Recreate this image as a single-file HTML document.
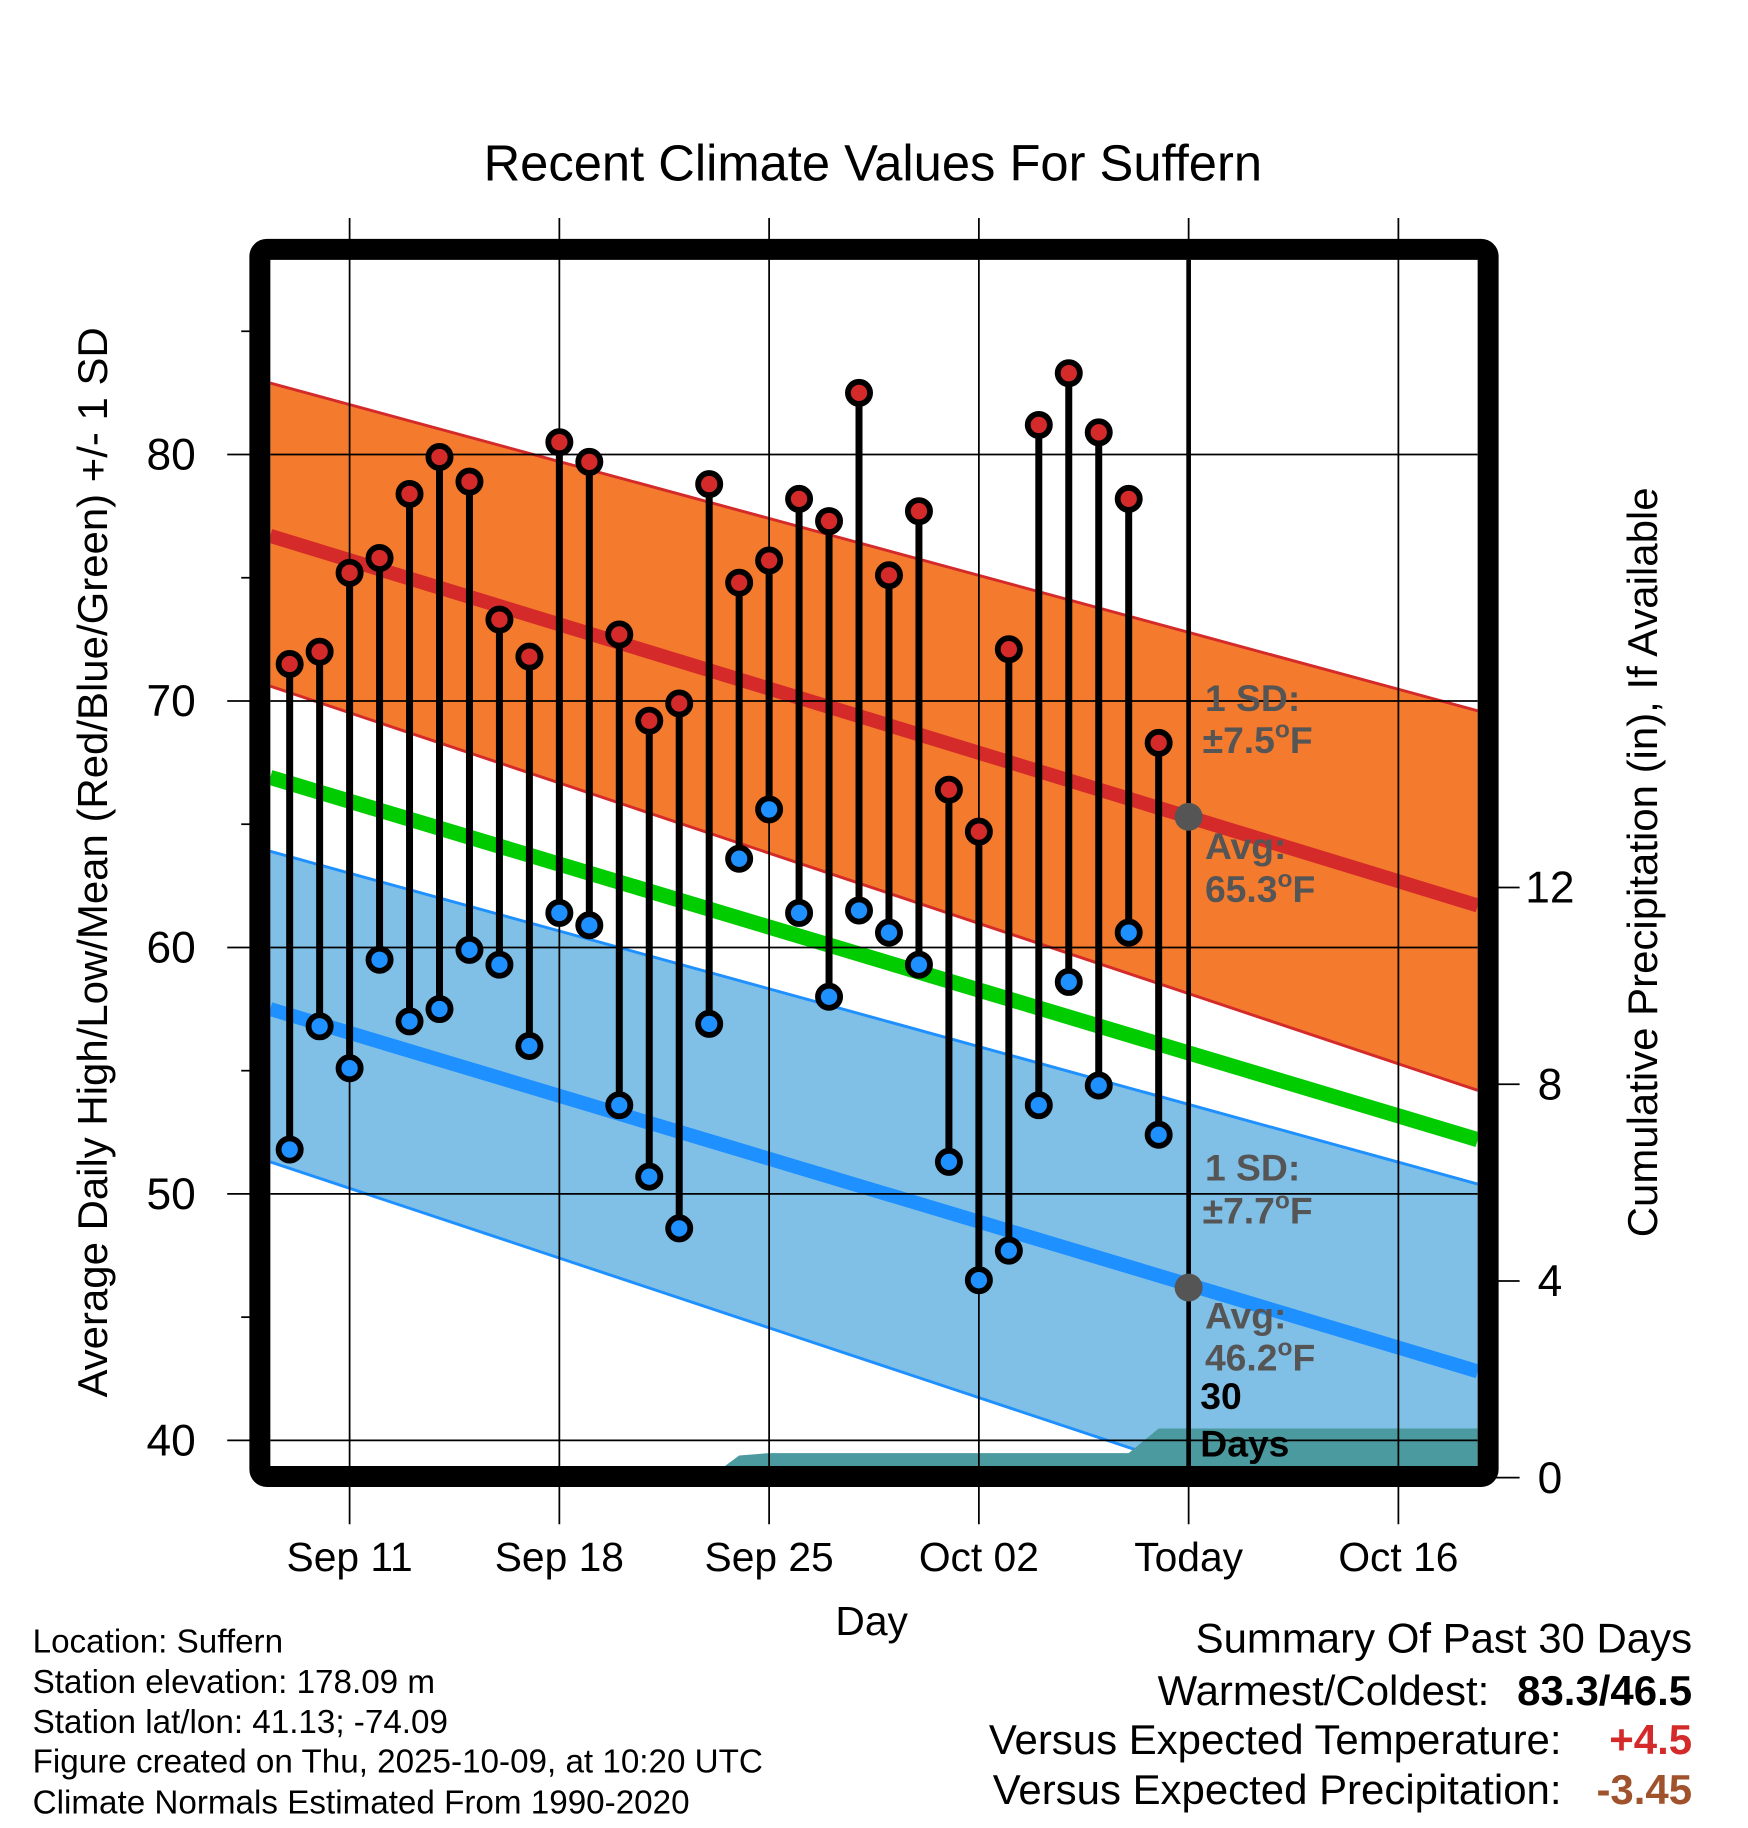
<!DOCTYPE html>
<html><head><meta charset="utf-8"><style>
html,body{margin:0;padding:0;background:#fff}
svg{display:block}
text{font-family:"Liberation Sans",Arial,sans-serif}
</style></head><body>
<svg id="chart" width="1748" height="1828" viewBox="0 0 1500 1568.6" xmlns="http://www.w3.org/2000/svg">
<defs><clipPath id="plotclip"><rect x="232" y="223" width="1036" height="1035"/></clipPath></defs>
<text x="749" y="155" font-size="43.5" text-anchor="middle">Recent Climate Values For Suffern</text>
<g id="plot" clip-path="url(#plotclip)"></g>
<g id="grid"></g>
<g id="marks"></g>
<g id="axes"></g>
<text transform="translate(92,740) rotate(-90)" font-size="36" text-anchor="middle">Average Daily High/Low/Mean (Red/Blue/Green) +/- 1 SD</text>
<text transform="translate(1422,740) rotate(-90)" font-size="36" text-anchor="middle">Cumulative Precipitation (in), If Available</text>
<text x="748" y="1403" font-size="35" text-anchor="middle">Day</text>
<g font-size="28.5">
<text x="28" y="1418">Location: Suffern</text>
<text x="28" y="1453">Station elevation: 178.09 m</text>
<text x="28" y="1487">Station lat/lon: 41.13; -74.09</text>
<text x="28" y="1521">Figure created on Thu, 2025-10-09, at 10:20 UTC</text>
<text x="28" y="1556">Climate Normals Estimated From 1990-2020</text>
</g>
<g font-size="36">
<text x="1452" y="1418" text-anchor="end">Summary Of Past 30 Days</text>
<text x="1278" y="1463" text-anchor="end">Warmest/Coldest:</text>
<text x="1452" y="1463" text-anchor="end" font-weight="bold">83.3/46.5</text>
<text x="1340" y="1505" text-anchor="end">Versus Expected Temperature:</text>
<text x="1452" y="1505" text-anchor="end" font-weight="bold" fill="#d42a2a">+4.5</text>
<text x="1340" y="1548" text-anchor="end">Versus Expected Precipitation:</text>
<text x="1452" y="1548" text-anchor="end" font-weight="bold" fill="#a0522d">-3.45</text>
</g>
</svg>
<script>
// data (day offsets relative to Sep 11)
const dayOffsets=[-2,-1,0,1,2,3,4,5,6,7,8,9,10,11,12,13,14,15,16,17,18,19,20,21,22,23,24,25,26,27];
const highs=[71.5,72.0,75.2,75.8,78.4,79.9,78.9,73.3,71.8,80.5,79.7,72.7,69.2,69.9,78.8,74.8,75.7,78.2,77.3,82.5,75.1,77.7,66.4,64.7,72.1,81.2,83.3,80.9,78.2,68.3];
const lows=[51.8,56.8,55.1,59.5,57.0,57.5,59.9,59.3,56.0,61.4,60.9,53.6,50.7,48.6,56.9,63.6,65.6,61.4,58.0,61.5,60.6,59.3,51.3,46.5,47.7,53.6,58.6,54.4,60.6,52.4];
const cumPrecip=[0,0,0,0,0,0,0,0,0,0,0,0,0,0,0,0.45,0.5,0.5,0.5,0.5,0.5,0.5,0.5,0.5,0.5,0.5,0.5,0.5,0.5,1.0];
const normDays=[-2.65,37.65];
const normHigh=[76.7,61.7];
const highUpper=[82.9,69.6];
const highLower=[70.6,54.2];
const normMean=[66.9,52.2];
const normLow=[57.5,42.8];
const lowUpper=[63.9,50.4];
const lowLower=[51.3,35.0];
const xTickDays=[0,7,14,21,28,35];
const xTickLabels=["Sep 11","Sep 18","Sep 25","Oct 02","Today","Oct 16"];
const yTicks=[40,50,60,70,80];
const yMinor=[45,55,65,75,85];
const pTicks=[0,4,8,12];
const todayDay=28, todayHigh=65.3, todayLow=46.2;

const NS="http://www.w3.org/2000/svg";
const X=d=>300+25.714*d;
const Y=t=>1236-(t-40)*21.15;
const P=p=>1268-p*42.2;
function mk(tag,attrs,parent){const e=document.createElementNS(NS,tag);for(const k in attrs)e.setAttribute(k,attrs[k]);parent.appendChild(e);return e;}
const plot=document.getElementById('plot'),grid=document.getElementById('grid'),marks=document.getElementById('marks'),axes=document.getElementById('axes');
function band(up,lo,fill,edge,name){
  let d='M'+normDays.map((n,i)=>X(n)+','+Y(up[i])).join('L');
  d+='L'+normDays.slice().reverse().map((n,i)=>X(n)+','+Y(lo[lo.length-1-i])).join('L')+'Z';
  const b=mk('path',{d:d,fill:fill},plot);
  
  
  [up,lo].forEach(a=>{mk('polyline',{points:normDays.map((n,i)=>X(n)+','+Y(a[i])).join(' '),fill:'none',stroke:edge,'stroke-width':2.5},plot);});
}
function line(a,color,w,name){
  const l=mk('polyline',{points:normDays.map((n,i)=>X(n)+','+Y(a[i])).join(' '),fill:'none',stroke:color,'stroke-width':w},plot);
  
  
}
band(lowUpper,lowLower,'#80bfe6','#1e90ff','low-sd-band');
band(highUpper,highLower,'#f47a2d','#d42a2a','high-sd-band');
line(normMean,'#00cc00',13,'normal-mean-line');
line(normLow,'#1e90ff',12,'normal-low-line');
line(normHigh,'#d42a2a',12,'normal-high-line');
// precip
let pd='M'+X(dayOffsets[0])+','+P(0);
dayOffsets.forEach((d,i)=>{pd+='L'+X(d)+','+P(cumPrecip[i]);});
pd+='L1270,'+P(cumPrecip[cumPrecip.length-1])+'L1270,1262L'+X(dayOffsets[0])+',1262Z';
const pa=mk('path',{d:pd,fill:'#4a9aa0'},plot);


// grid
yTicks.forEach(t=>{mk('line',{x1:232,x2:1268,y1:Y(t),y2:Y(t),stroke:'#000','stroke-width':1.5},grid);
  mk('line',{x1:195,x2:218,y1:Y(t),y2:Y(t),stroke:'#000','stroke-width':1.5},grid);
  const tl=mk('text',{x:168,y:Y(t)+13,'font-size':38,'text-anchor':'end'},axes);tl.textContent=t;
  
  });
yMinor.forEach(t=>{mk('line',{x1:207,x2:218,y1:Y(t),y2:Y(t),stroke:'#000','stroke-width':1.5},grid);});
xTickDays.forEach((d,i)=>{mk('line',{x1:X(d),x2:X(d),y1:187,y2:1308,stroke:'#000','stroke-width':1.5},grid);
  const tl=mk('text',{x:X(d),y:1348,'font-size':35,'text-anchor':'middle'},axes);tl.textContent=xTickLabels[i];
  
  });
pTicks.forEach(p=>{mk('line',{x1:1282,x2:1304,y1:P(p),y2:P(p),stroke:'#000','stroke-width':1.5},grid);
  const tl=mk('text',{x:1330,y:P(p)+13,'font-size':38,'text-anchor':'middle'},axes);tl.textContent=p;
  
  });
// today line
const tdl=mk('line',{x1:X(todayDay),x2:X(todayDay),y1:223,y2:1260,stroke:'#000','stroke-width':4},marks);


// stems and dots
dayOffsets.forEach((d,i)=>{
  const s=mk('line',{x1:X(d),x2:X(d),y1:Y(highs[i]),y2:Y(lows[i]),stroke:'#000','stroke-width':6},marks);
  
  
  const h=mk('circle',{cx:X(d),cy:Y(highs[i]),r:9.5,fill:'#d42a2a',stroke:'#000','stroke-width':5},marks);
  
  
  const l=mk('circle',{cx:X(d),cy:Y(lows[i]),r:9.5,fill:'#1e90ff',stroke:'#000','stroke-width':5},marks);
  
  
});
[todayHigh,todayLow].forEach(v=>{const c=mk('circle',{cx:X(todayDay),cy:Y(v),r:12,fill:'#555'},marks);
  
  });
// annotations
function ann(x,y,txt,color,sup){
  const t=mk('text',{x:x,y:y,'font-size':32,'font-weight':'bold',fill:color},marks);
  
  
  if(sup){t.textContent=txt;const s=mk('tspan',{'font-size':21,dy:-13},t);s.textContent='o';const f=mk('tspan',{dy:13},t);f.textContent='F';}
  else t.textContent=txt;
}
ann(1034,610,'1 SD:','#555');ann(1032,646,'±7.5','#555',true);
ann(1034,737,'Avg:','#555');ann(1034,774,'65.3','#555',true);
ann(1034,1013,'1 SD:','#555');ann(1032,1050,'±7.7','#555',true);
ann(1034,1140,'Avg:','#555');ann(1034,1176,'46.2','#555',true);
ann(1030,1209,'30','#000');ann(1030,1250,'Days','#000');
// frame
const fr=mk('rect',{x:223,y:214,width:1054,height:1053,rx:6,fill:'none',stroke:'#000','stroke-width':18},axes);


</script>
</body></html>
